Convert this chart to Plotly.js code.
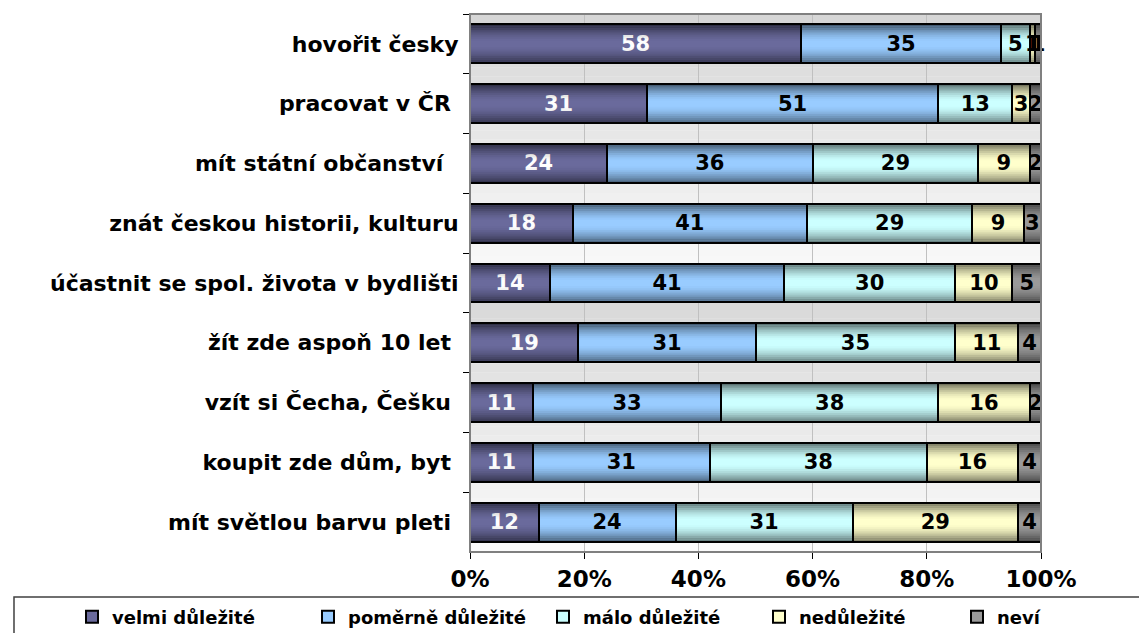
<!DOCTYPE html>
<html>
<head>
<meta charset="utf-8">
<script src="https://cdn.plot.ly/plotly-3.0.1.min.js"></script>
<style>
  html, body { margin: 0; padding: 0; background: #ffffff; }
  #chart { width: 1139px; height: 633px; }
</style>
</head>
<body>
<div id="chart"></div>
<script>
// Categories, top to bottom
const categories = [
  "hovořit česky",
  "pracovat v ČR\u00a0",
  "mít státní občanství\u00a0\u00a0",
  "znát českou historii, kulturu",
  "účastnit se spol. života v bydlišti",
  "žít zde aspoň 10 let\u00a0",
  "vzít si Čecha, Češku\u00a0",
  "koupit zde dům, byt\u00a0",
  "mít světlou barvu pleti\u00a0"
];

const seriesNames = ["velmi důležité", "poměrně důležité", "málo důležité", "nedůležité", "neví"];

const velmi    = [58, 31, 24, 18, 14, 19, 11, 11, 12];
const pomerne  = [35, 51, 36, 41, 41, 31, 33, 31, 24];
const malo     = [5, 13, 29, 29, 30, 35, 38, 38, 31];
const nedulez  = [1, 3, 9, 9, 10, 11, 16, 16, 29];
const nevi     = [1, 2, 2, 3, 5, 4, 2, 4, 4];

const xTickVals = [0, 20, 40, 60, 80, 100];
const xTickText = ["0%", "20%", "40%", "60%", "80%", "100%"];

const seriesValues = [velmi, pomerne, malo, nedulez, nevi];
const colors = ["#6a6a9c", "#99ccff", "#ccffff", "#ffffcc", "#9a9a9a"];
const textColors = ["#ffffff", "#000000", "#000000", "#000000", "#000000"];
const legendWidths = [191, 190, 171, 153, 60];

const FONT = "DejaVu Sans, Verdana, sans-serif";
const BARWIDTH = 0.65;

const traces = seriesValues.map((vals, i) => ({
  type: "bar",
  orientation: "h",
  name: seriesNames[i],
  y: categories,
  x: vals,
  width: BARWIDTH,
  text: vals.map(String),
  texttemplate: "%{text}",
  textposition: "inside",
  insidetextanchor: "middle",
  textangle: 0,
  constraintext: "none",
  cliponaxis: false,
  legendwidth: legendWidths[i],
  insidetextfont: { family: FONT, size: 21, color: textColors[i], weight: "bold" },
  marker: { color: colors[i], line: { color: "#000000", width: 2 } },
  hoverinfo: "skip"
}));

const shapes = [];
// background gradient strips (two cycles, gray at top to near white)
const cycles = 2, strips = 30;
for (let c = 0; c < cycles; c++) {
  for (let s = 0; s < strips; s++) {
    const t = s / (strips - 1);
    const v = Math.round(0xd6 + (0xfb - 0xd6) * t);
    const top = 1 - c / cycles - s / (strips * cycles);
    const bot = 1 - c / cycles - (s + 1) / (strips * cycles);
    shapes.push({
      type: "rect", xref: "paper", yref: "paper", layer: "below",
      x0: 0, x1: 1, y0: bot, y1: top + 0.0005,
      fillcolor: `rgb(${v},${v},${v})`, line: { width: 0 }
    });
  }
}
// bar shading overlay (darker at top and bottom edges of each bar)
const shadeSteps = 9;
categories.forEach((cat, ci) => {
  const half = BARWIDTH / 2;
  for (let k = 0; k < shadeSteps; k++) {
    const frac0 = k / shadeSteps * 0.42;
    const frac1 = (k + 1) / shadeSteps * 0.42;
    const op = 0.55 * Math.pow(1 - k / shadeSteps, 1.6);
    shapes.push({
      type: "rect", xref: "x", yref: "y", layer: "above",
      x0: 0, x1: 100,
      y0: ci - half + frac0 * BARWIDTH, y1: ci - half + frac1 * BARWIDTH,
      fillcolor: `rgba(0,0,0,${op.toFixed(3)})`, line: { width: 0 }
    });
    shapes.push({
      type: "rect", xref: "x", yref: "y", layer: "above",
      x0: 0, x1: 100,
      y0: ci + half - frac1 * BARWIDTH, y1: ci + half - frac0 * BARWIDTH,
      fillcolor: `rgba(0,0,0,${(op * 0.9).toFixed(3)})`, line: { width: 0 }
    });
  }
});
// plot area border
shapes.push({
  type: "rect", xref: "paper", yref: "paper", layer: "above",
  x0: 0, x1: 1, y0: 0, y1: 1, fillcolor: "rgba(0,0,0,0)",
  line: { color: "#808080", width: 2 }
});
// legend frame
shapes.push({
  type: "rect", xref: "paper", yref: "paper", layer: "above",
  x0: -0.7986, x1: 1.25, y0: -0.25, y1: -0.0836, fillcolor: "rgba(0,0,0,0)",
  line: { color: "#404040", width: 1.5 }
});

const layout = {
  width: 1139,
  height: 633,
  margin: { l: 470, r: 98, t: 14, b: 81, autoexpand: false },
  paper_bgcolor: "#ffffff",
  plot_bgcolor: "rgba(0,0,0,0)",
  barmode: "stack",
  showlegend: true,
  font: { family: FONT, color: "#000000" },
  uniformtext: { mode: "show", minsize: 21 },
  xaxis: {
    range: [0, 100],
    tickvals: xTickVals,
    ticktext: xTickText,
    ticks: "outside",
    ticklen: 6,
    tickcolor: "#000000",
    tickwidth: 1,
    showline: true,
    linecolor: "#000000",
    linewidth: 1,
    showgrid: true,
    gridcolor: "#c0c0c0",
    gridwidth: 1,
    zeroline: false,
    automargin: false,
    tickfont: { family: FONT, size: 23, color: "#000000", weight: "bold" },
    fixedrange: true
  },
  yaxis: {
    type: "category",
    autorange: "reversed",
    tickson: "boundaries",
    ticks: "outside",
    ticklen: 6,
    tickcolor: "#000000",
    showline: true,
    linecolor: "#000000",
    linewidth: 1,
    showgrid: false,
    zeroline: false,
    automargin: false,
    ticklabelstandoff: 6,
    tickfont: { family: FONT, size: 22, color: "#000000", weight: "bold" },
    fixedrange: true
  },
  legend: {
    orientation: "h",
    xref: "paper",
    x: -0.697,
    xanchor: "left",
    yref: "paper",
    y: -0.1208,
    yanchor: "middle",
    traceorder: "normal",
    bgcolor: "rgba(0,0,0,0)",
    borderwidth: 0,
    itemwidth: 30,
    font: { family: FONT, size: 18, color: "#000000", weight: "bold" }
  },
  shapes: shapes
};

Plotly.newPlot("chart", traces, layout, { displayModeBar: false, staticPlot: true });
</script>
</body>
</html>
